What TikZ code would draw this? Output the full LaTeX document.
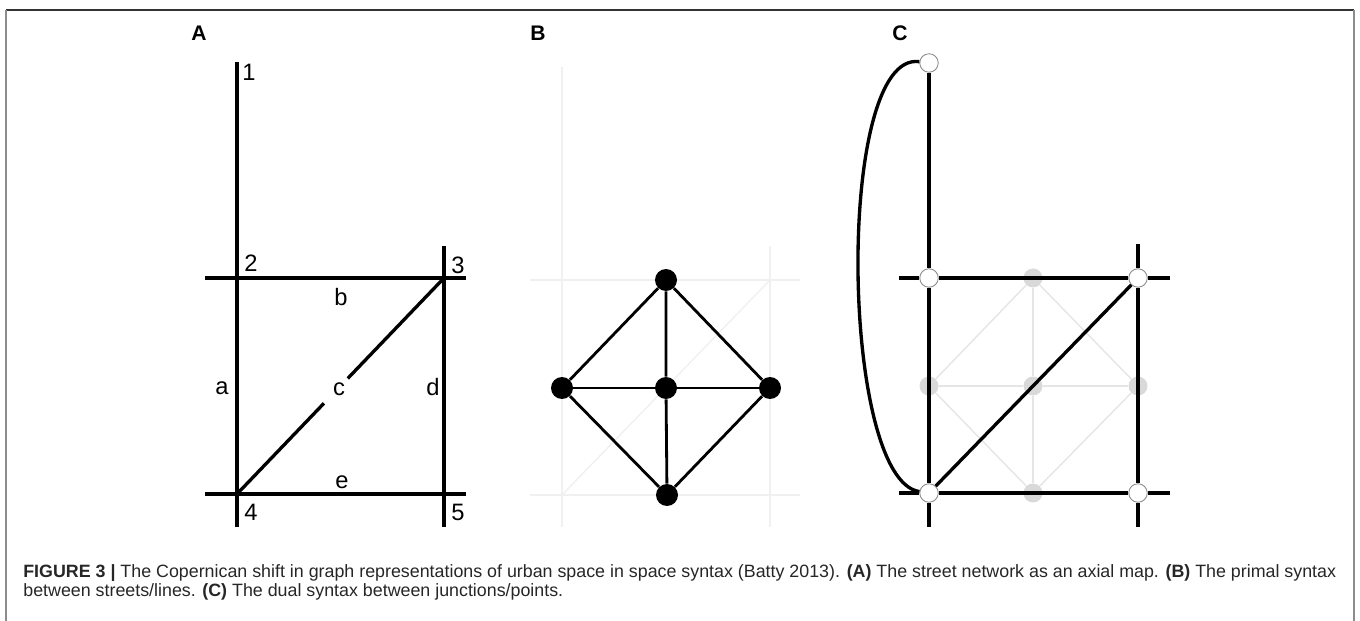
\documentclass[tikz,border=0pt]{standalone}
\usepackage{fontspec}
\setmainfont{Liberation Sans}
\usetikzlibrary{calc}

\begin{document}
\begin{tikzpicture}[
x={(0.02cm,0cm)}, y={(0cm,-0.02cm)},
% #region Picture settings %
street/.style={line width=1.9pt, black},
link/.style={line width=1.6pt, black},
ghost/.style={line width=0.8pt, black!6},
faint/.style={line width=0.8pt, black!10},
primal/.style={circle, fill=black, inner sep=0pt, minimum size=0.44cm},
dual/.style={circle, draw=black!45, line width=0.5pt, fill=white, inner sep=0pt, minimum size=0.37cm},
blob/.style={circle, fill=black!15, inner sep=0pt, minimum size=0.38cm},
lbl/.style={font=\fontsize{13.5}{15}\selectfont, inner sep=0pt},
panel/.style={font=\fontsize{12}{14}\selectfont\bfseries, inner sep=0pt},
caption/.style={font=\fontsize{10.15}{12}\selectfont, text=black!85, inner sep=0pt, anchor=base west},
% #endregion Picture settings %
]

\useasboundingbox (0,0) rectangle (1360,621);

% frame
\draw[black!80, line width=0.8pt] (6,10) -- (1354,10);
\draw[black!45, line width=1.2pt] (6,10) -- (6,621);
\draw[black!45, line width=1.2pt] (1354,10) -- (1354,621);

\node[panel] (pA) at (199,33) {A};
\node[panel] (pB) at (538,33) {B};
\node[panel] (pC) at (900,33) {C};

% #region A: axial map %
\coordinate (aN) at (237,62);  \coordinate (aS) at (237,527);
\coordinate (dN) at (444,246); \coordinate (dS) at (444,527);
\coordinate (bW) at (205,278); \coordinate (bE) at (466,278);
\coordinate (eW) at (205,494); \coordinate (eE) at (466,494);
\coordinate (j3) at (444,278); \coordinate (j4) at (237,494);

\draw[street] (aN) -- (aS);
\draw[street] (dN) -- (dS);
\draw[street] (bW) -- (bE);
\draw[street] (eW) -- (eE);
\draw[street] (j4) -- ($(j4)!0.42!(j3)$);
\draw[street] ($(j4)!0.535!(j3)$) -- (j3);

\node[lbl] (n1) at (249,72) {1};
\node[lbl] (n2) at (251,263) {2};
\node[lbl] (n3) at (458,265) {3};
\node[lbl] (n4) at (251,512) {4};
\node[lbl] (n5) at (458,512) {5};
\node[lbl] (la) at (222,388) {a};
\node[lbl] (lb) at (341,297) {b};
\node[lbl] (lc) at (339,389) {c};
\node[lbl] (ld) at (433,387) {d};
\node[lbl] (le) at (342,482) {e};
% #endregion A %

% #region B: primal syntax %
\draw[ghost] (562,67) -- (562,527);
\draw[ghost] (770,246) -- (770,527);
\draw[ghost] (530,280) -- (800,280);
\draw[ghost] (530,495) -- (800,495);
\draw[ghost] (562,495) -- (770,280);

\node[primal] (Bb) at (666,280) {};
\node[primal] (Ba) at (562,388) {};
\node[primal] (Bc) at (666,388) {};
\node[primal] (Bd) at (770,388) {};
\node[primal] (Be) at (667,495) {};

\draw[link] (Bb) -- (Ba) -- (Be) -- (Bd) -- (Bb);
\draw[link] (Bb) -- (Bc) -- (Be);
\draw[link] (Ba) -- (Bc) -- (Bd);
% #endregion B %

% #region C: dual syntax %
\node[blob] (gb) at (1033,278) {};
\node[blob] (ga) at (929,386) {};
\node[blob] (gc) at (1033,386) {};
\node[blob] (gd) at (1138,386) {};
\node[blob] (ge) at (1033,493) {};
\draw[faint] (gb) -- (ga) -- (ge) -- (gd) -- (gb);
\draw[faint] (gb) -- (gc) -- (ge);
\draw[faint] (ga) -- (gc) -- (gd);

\coordinate (caS) at (929,527);
\coordinate (cdN) at (1138,244); \coordinate (cdS) at (1138,527);
\coordinate (cbW) at (899,278);  \coordinate (cbE) at (1170,278);
\coordinate (ceW) at (899,493);  \coordinate (ceE) at (1170,493);

\node[dual] (C1) at (929,63) {};
\node[dual] (C2) at (929,278) {};
\node[dual] (C3) at (1138,278) {};
\node[dual] (C4) at (929,493) {};
\node[dual] (C5) at (1138,493) {};

\draw[street] (C1) -- (C2) -- (C4) -- (caS);
\draw[street] (cdN) -- (C3) -- (C5) -- (cdS);
\draw[street] (cbW) -- (C2) -- (C3) -- (cbE);
\draw[street] (ceW) -- (C4) -- (C5) -- (ceE);
\draw[street] (C4) -- (C3);
\draw[street] (C1) .. controls (835,50) and (840,480) .. (C4);
% #endregion C %

\node[caption] (cap1) at (23,578) {\textbf{FIGURE 3 |} The Copernican shift in graph representations of urban space in space syntax (Batty 2013). \textbf{(A)} The street network as an axial map. \textbf{(B)} The primal syntax};
\node[caption] (cap2) at (23,597) {between streets/lines. \textbf{(C)} The dual syntax between junctions/points.};

\end{tikzpicture}
\end{document}
